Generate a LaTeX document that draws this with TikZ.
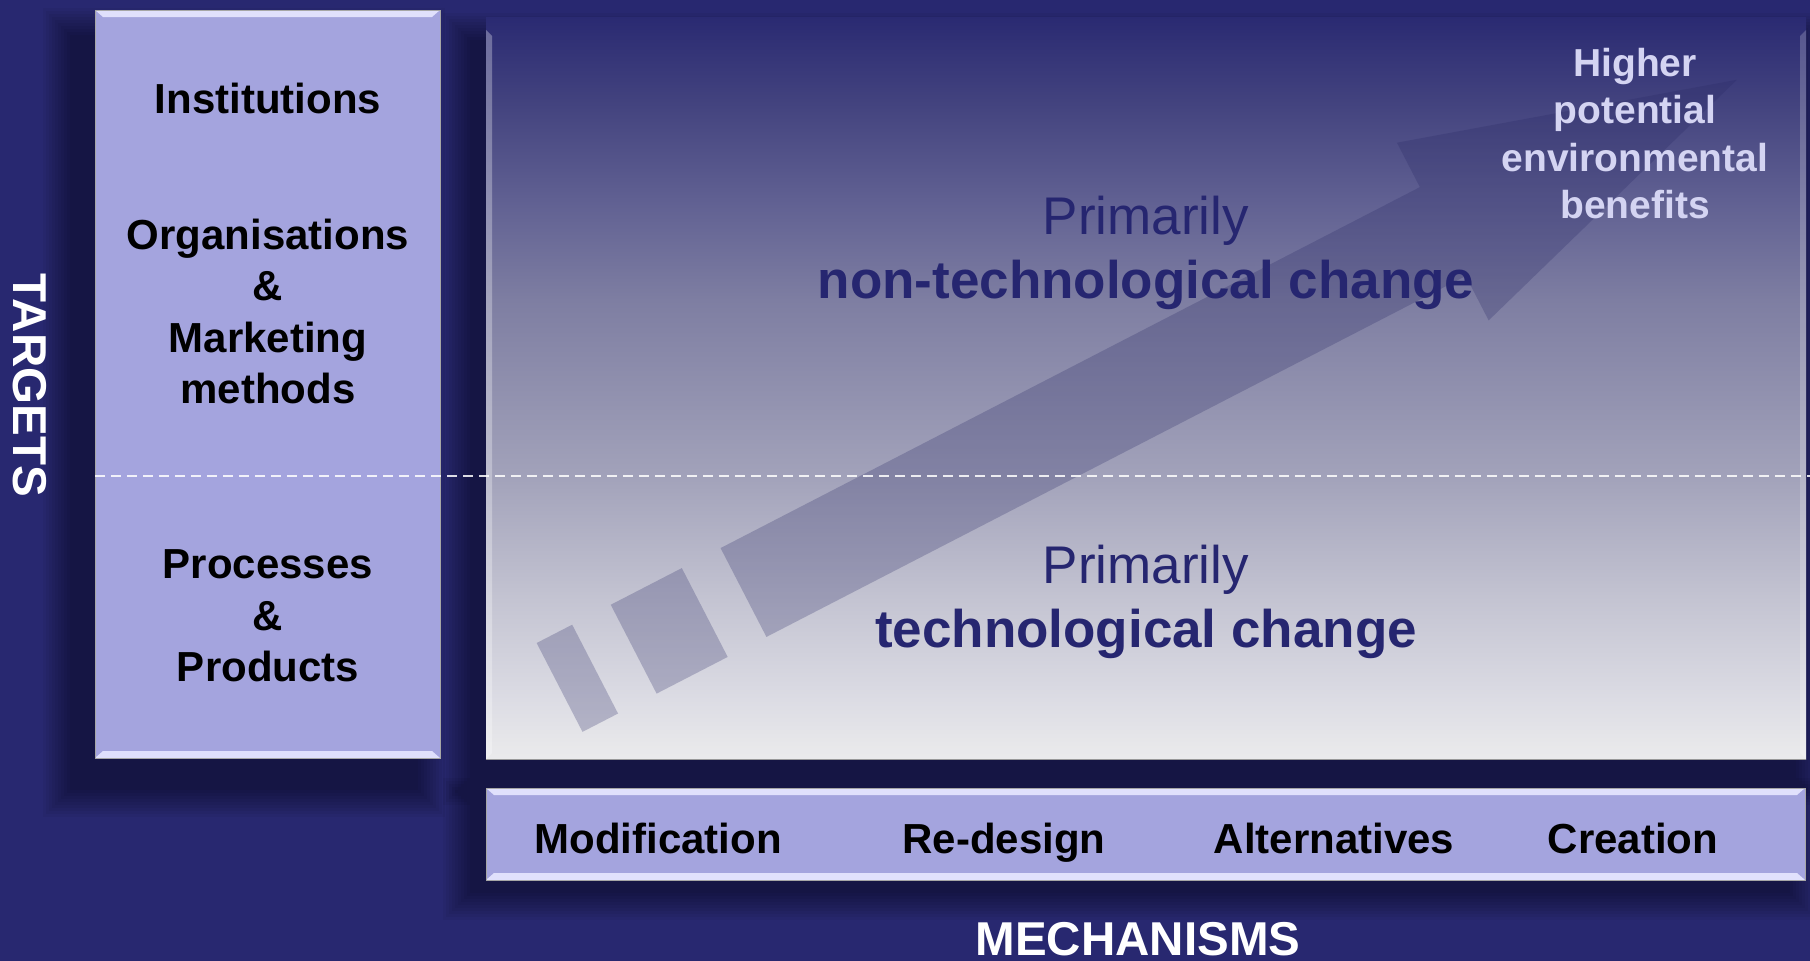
\documentclass[tikz,border=0pt]{standalone}
\usepackage{fontspec}
\setmainfont{Liberation Sans}
\usetikzlibrary{calc}

\definecolor{bgnavy}{RGB}{40,40,112}
\definecolor{boxfill}{RGB}{164,164,222}
\definecolor{bevel}{RGB}{224,224,252}
\definecolor{darktext}{RGB}{38,38,112}
\definecolor{lighttext}{RGB}{212,212,242}
\definecolor{arrowfill}{RGB}{40,40,100}
\definecolor{pc0}{RGB}{235,235,236}
\definecolor{pc1}{RGB}{220,220,228}
\definecolor{pc2}{RGB}{196,196,210}
\definecolor{pc3}{RGB}{162,162,186}
\definecolor{pc4}{RGB}{126,126,162}
\definecolor{pc5}{RGB}{96,96,146}
\definecolor{pc6}{RGB}{66,66,126}
\definecolor{pc7}{RGB}{42,42,114}

\pgfdeclareverticalshading{panelshade}{100bp}{color(0bp)=(pc0); color(25bp)=(pc0); color(29bp)=(pc1); color(35.7bp)=(pc2); color(44.1bp)=(pc3); color(55.9bp)=(pc4); color(62.7bp)=(pc5); color(69.4bp)=(pc6); color(75bp)=(pc7); color(100bp)=(pc7)}

\tikzset{
  boxtext/.style={font=\fontsize{42}{51}\selectfont\bfseries, text=black, anchor=base, inner sep=0pt},
  axistext/.style={font=\fontsize{47.5}{57}\selectfont\bfseries, text=white, anchor=base, inner sep=0pt},
  regtext/.style={font=\fontsize{53}{63}\selectfont, text=darktext, anchor=base, inner sep=0pt},
  boldtext/.style={font=\fontsize{53}{63}\selectfont\bfseries, text=darktext, anchor=base, inner sep=0pt},
  benefittext/.style={font=\fontsize{39}{47}\selectfont\bfseries, text=lighttext, anchor=base, inner sep=0pt},
  arrowpart/.style={fill=arrowfill, opacity=0.26},
  shadowpart/.style={fill=black, opacity=0.045},
  divider/.style={draw=white, opacity=0.85, line width=2pt, dash pattern=on 10pt off 6pt},
}

\newcommand\bevelbox[4]{%
  \fill[boxfill] (#1,#2) rectangle (#3,#4);
  \fill[bevel] (#1,#2) -- (#3,#2) -- (#3-8,#2+7) -- (#1+8,#2+7) -- cycle;
  \fill[bevel] (#1,#4) -- (#3,#4) -- (#3-8,#4-7) -- (#1+8,#4-7) -- cycle;
  \draw[black!35, line width=0.8pt] (#1,#2) rectangle (#3,#4);
}
\newcommand\softshadow[4]{%
  \foreach \k in {0,...,9}{\fill[shadowpart] (#1-3*\k,#2-3*\k) rectangle (#3+3*\k,#4+3*\k);}
}

\begin{document}
\begin{tikzpicture}[x=1pt,y=-1pt]
\useasboundingbox (0,0) rectangle (1810,961);
\fill[bgnavy] (0,0) rectangle (1810,961);

% shadows
\softshadow{70}{35}{418}{790}
\softshadow{470}{40}{1796}{778}
\softshadow{470}{805}{1790}{893}

% main panel
\shade[shading=panelshade] (486,17) rectangle (1806,759);
\fill[white, opacity=0.3] (486,30) -- (492,36) -- (492,753) -- (486,759) -- cycle;
\fill[white, opacity=0.2] (1806,30) -- (1800,36) -- (1800,753) -- (1806,759) -- cycle;
\draw[black!40, line width=1pt] (486,759) -- (1806,759);

% arrow
\begin{scope}[shift={(743.5,592.5)}, rotate=27.3]
  \fill[arrowpart] (0,-50) -- (787,-50) -- (787,-100) -- (1118,0) -- (787,100) -- (787,50) -- (0,50) -- cycle;
  \fill[arrowpart] (-123.6,-50) rectangle (-43.6,50);
  \fill[arrowpart] (-207,-50) rectangle (-167,50);
\end{scope}

% left box and bottom bar
\bevelbox{95}{10}{440}{758}
\bevelbox{486}{788}{1805}{880}

% divider
\coordinate (divL) at (95,476);
\coordinate (divR) at (1810,476);
\draw[divider] (divL) -- (divR);

% target labels
\node[boxtext] (inst) at (268,113) {Institutions};
\node[boxtext] (org1) at (268,249) {Organisations};
\node[boxtext] (org2) at (268,300) {\&};
\node[boxtext] (org3) at (268,352) {Marketing};
\node[boxtext] (org4) at (268,403) {methods};
\node[boxtext] (proc1) at (268,578) {Processes};
\node[boxtext] (proc2) at (268,630) {\&};
\node[boxtext] (proc3) at (268,681) {Products};

% mechanism labels
\node[boxtext] (mod) at (658,853) {Modification};
\node[boxtext] (redes) at (1004,853) {Re-design};
\node[boxtext] (alt) at (1334,853) {Alternatives};
\node[boxtext] (crea) at (1633,853) {Creation};

% panel texts
\node[regtext] (prim1) at (1146,234) {Primarily};
\node[boldtext] (nontech) at (1146,298) {non-technological change};
\node[regtext] (prim2) at (1146,583) {Primarily};
\node[boldtext] (tech) at (1146,647) {technological change};

\node[benefittext] (hb1) at (1635,76) {Higher};
\node[benefittext] (hb2) at (1635,123) {potential};
\node[benefittext] (hb3) at (1635,171) {environmental};
\node[benefittext] (hb4) at (1635,218) {benefits};

% axis titles
\node[axistext, rotate=-90] (targets) at (13,385) {TARGETS};
\node[axistext] (mech) at (1138,955) {MECHANISMS};
\end{tikzpicture}
\end{document}
